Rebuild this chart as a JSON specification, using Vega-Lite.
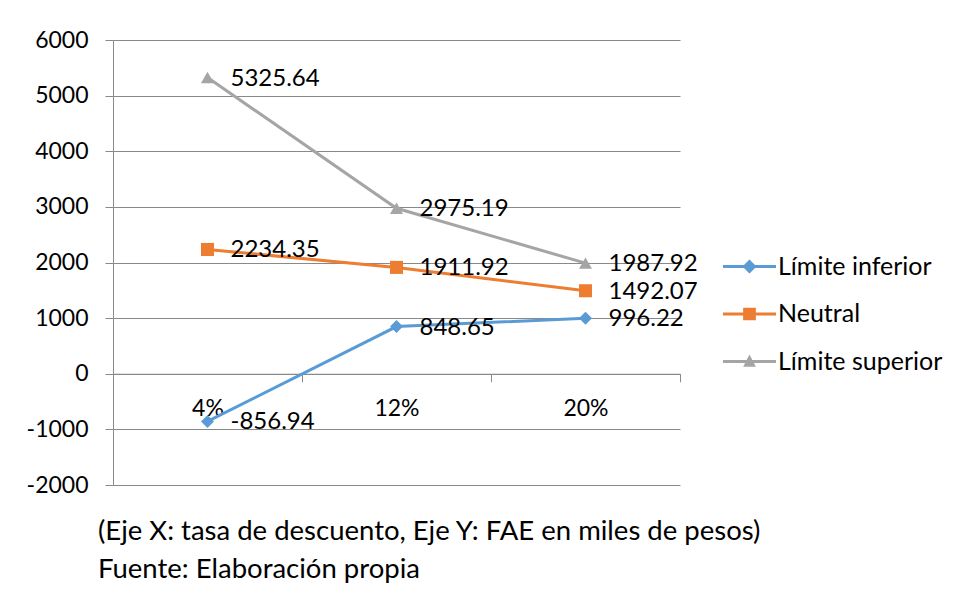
{
  "$schema": "https://vega.github.io/schema/vega-lite/v6.json",
  "width": 567,
  "height": 445,
  "autosize": "none",
  "padding": {"left": 113, "top": 40, "right": 277, "bottom": 130},
  "background": "white",
  "config": {"font": "Lato", "view": {"stroke": null}},
  "data": {"values": [
    {"tasa": "4%", "serie": "Límite inferior", "valor": -856.94, "etiqueta": "-856.94"},
    {"tasa": "12%", "serie": "Límite inferior", "valor": 848.65, "etiqueta": "848.65"},
    {"tasa": "20%", "serie": "Límite inferior", "valor": 996.22, "etiqueta": "996.22"},
    {"tasa": "4%", "serie": "Neutral", "valor": 2234.35, "etiqueta": "2234.35"},
    {"tasa": "12%", "serie": "Neutral", "valor": 1911.92, "etiqueta": "1911.92"},
    {"tasa": "20%", "serie": "Neutral", "valor": 1492.07, "etiqueta": "1492.07"},
    {"tasa": "4%", "serie": "Límite superior", "valor": 5325.64, "etiqueta": "5325.64"},
    {"tasa": "12%", "serie": "Límite superior", "valor": 2975.19, "etiqueta": "2975.19"},
    {"tasa": "20%", "serie": "Límite superior", "valor": 1987.92, "etiqueta": "1987.92"}
  ]},
  "title": {
    "text": ["(Eje X: tasa de descuento, Eje Y: FAE en miles de pesos)", "Fuente: Elaboración propia"],
    "orient": "bottom", "anchor": "start", "align": "left", "frame": "group",
    "dx": -15, "offset": 21, "fontSize": 27.5, "fontWeight": "normal", "color": "black",
    "lineHeight": 38, "baseline": "top", "font": "Lato"
  },
  "encoding": {
    "x": {
      "field": "tasa", "type": "nominal", "sort": ["4%", "12%", "20%"],
      "scale": {"paddingInner": 0, "paddingOuter": 0},
      "axis": {
        "orient": "bottom", "offset": -111.25, "title": null, "labelAngle": 0,
        "domainColor": "#898989", "tickColor": "#898989", "tickBand": "extent",
        "tickSize": 8, "labelPadding": 16, "labelFontSize": 23, "labelColor": "black",
        "labelFont": "Lato", "grid": false
      }
    },
    "y": {
      "field": "valor", "type": "quantitative",
      "scale": {"domain": [-2000, 6000], "nice": false, "zero": false},
      "axis": {
        "title": null, "values": [-2000, -1000, 0, 1000, 2000, 3000, 4000, 5000, 6000],
        "labelExpr": "datum.value < 0 ? '-' + abs(datum.value) : '' + datum.value",
        "grid": true, "gridColor": "#898989", "domainColor": "#898989", "tickColor": "#898989",
        "tickSize": 8, "labelPadding": 17, "labelFontSize": 23, "labelColor": "black", "labelFont": "Lato"
      }
    }
  },
  "resolve": {"legend": {"color": "independent"}},
  "layer": [
    {
      "mark": {"type": "line", "strokeWidth": 3},
      "encoding": {
        "color": {
          "field": "serie", "type": "nominal",
          "scale": {"domain": ["Límite inferior", "Neutral", "Límite superior"], "range": ["#5B9BD5", "#ED7D31", "#A5A5A5"]},
          "legend": {
            "orient": "none", "legendX": 624, "legendY": 214, "title": null,
            "labelFontSize": 25, "labelColor": "black", "labelFont": "Lato",
            "symbolSize": 450, "rowPadding": 21.5, "labelOffset": 16, "padding": 0,
            "symbolStrokeWidth": 0, "labelLimit": 300,
            "encode": {
              "symbols": {
                "update": {
                  "shape": {"signal": "datum.value === 'Neutral' ? 'M-2.5,-0.14H-0.6V-0.6H0.6V-0.14H2.5V0.14H0.6V0.6H-0.6V0.14H-2.5Z' : datum.value === 'Límite superior' ? 'M-2.5,-0.14H-0.27L0,-0.66L0.27,-0.14H2.5V0.14H0.414L0.6,0.5H-0.6L-0.414,0.14H-2.5Z' : 'M-2.5,-0.14H-0.52L0,-0.66L0.52,-0.14H2.5V0.14H0.52L0,0.66L-0.52,0.14H-2.5Z'"},
                  "fill": {"signal": "scale('color', datum.value)"},
                  "fillOpacity": {"value": 1},
                  "opacity": {"value": 1},
                  "strokeWidth": {"value": 0}
                }
              }
            }
          }
        }
      }
    },
    {
      "mark": {"type": "point", "filled": true, "opacity": 1, "size": 170},
      "encoding": {
        "color": {"field": "serie", "type": "nominal", "legend": null},
        "shape": {
          "field": "serie", "type": "nominal",
          "scale": {"domain": ["Límite inferior", "Neutral", "Límite superior"], "range": ["diamond", "square", "triangle-up"]},
          "legend": null
        }
      }
    },
    {
      "mark": {"type": "text", "align": "left", "baseline": "middle", "dx": 23, "dy": 1, "fontSize": 24, "font": "Lato"},
      "encoding": {"text": {"field": "etiqueta"}, "color": {"value": "black"}}
    }
  ]
}
